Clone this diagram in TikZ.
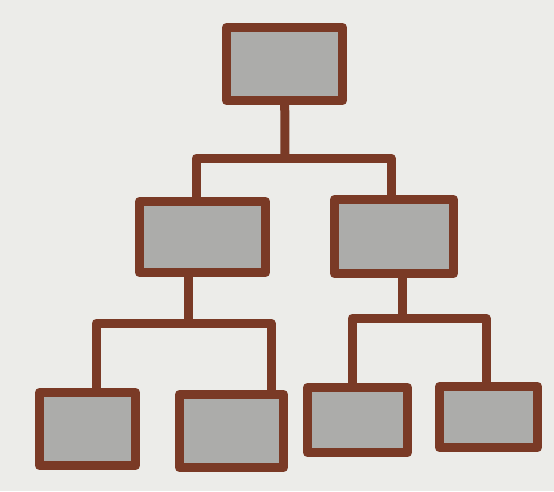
\documentclass[tikz,border=0pt]{standalone}
\usetikzlibrary{positioning,calc}
\definecolor{paper}{RGB}{236,236,233}
\definecolor{ink}{RGB}{122,58,38}
\definecolor{tone}{RGB}{172,172,170}

\begin{document}
\begin{tikzpicture}[
    x=1pt, y=-1pt,
    box/.style={rectangle, draw=ink, fill=tone, line width=9pt, line join=round,
                inner sep=0pt, minimum width=#1},
    box/.default=100pt,
    link/.style={draw=ink, line width=9pt, line cap=round, line join=round},
]
% --- paper ----------------------------------------------------------
\fill[paper] (0,0) rectangle (554,491);
\useasboundingbox (0,0) rectangle (554,491);

% --- top level ------------------------------------------------------
\node[box=116pt, minimum height=73pt] (root) at (284.5, 64) {};

% --- middle level ---------------------------------------------------
\node[box=126pt, minimum height=71pt] (midL) at (202.5, 237)   {};
\node[box=119pt, minimum height=74pt] (midR) at (394,   236.5) {};

% --- bottom level ---------------------------------------------------
\node[box=96pt,  minimum height=73pt] (leafA) at (87.5,  429) {};
\node[box=104pt, minimum height=73pt] (leafB) at (231.5, 431) {};
\node[box=100pt, minimum height=65pt] (leafC) at (357.5, 420) {};
\node[box=98pt,  minimum height=61pt] (leafD) at (488.5, 417) {};

% --- junctions ------------------------------------------------------
\coordinate (j0) at (285, 158);
\coordinate (j1) at (188, 323);
\coordinate (j2) at (402, 318);

% --- root -> middle -------------------------------------------------
\draw[link] (root) -- (j0);
\draw[link] (j0) -| ([xshift=-6.5pt]midL.north);
\draw[link] (j0) -| ([xshift=-3pt]midR.north);

% --- middle -> bottom -----------------------------------------------
\draw[link] ([xshift=-14.5pt]midL.south) -- (j1);
\draw[link] (j1) -| ([xshift=8.5pt]leafA.north);
\draw[link] (j1) -| ([xshift=39.5pt]leafB.north);

\draw[link] ([xshift=8pt]midR.south) -- (j2);
\draw[link] (j2) -| ([xshift=-5.5pt]leafC.north);
\draw[link] (j2) -| ([xshift=-2.5pt]leafD.north);
\end{tikzpicture}
\end{document}
